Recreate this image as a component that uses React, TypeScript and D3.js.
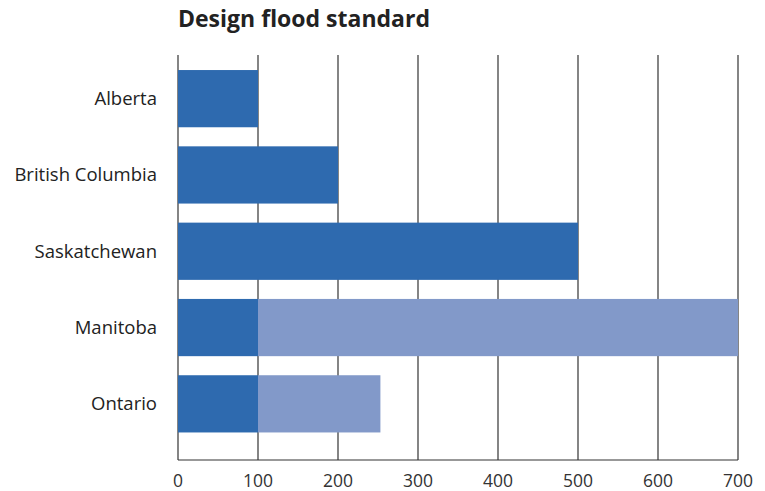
import React from "react";
import * as d3 from "d3";

const provinces = ["Alberta", "British Columbia", "Saskatchewan", "Manitoba", "Ontario"];
const baseValues = [100, 200, 500, 100, 100];
const upperValues = [0, 0, 0, 700, 253];
const ticks = [0, 100, 200, 300, 400, 500, 600, 700];
const title = "Design flood standard";

const darkColor = "#2e6aaf";
const lightColor = "#8299c9";

export default function App() {
  const width = 765;
  const height = 491;
  const x = d3.scaleLinear().domain([0, 700]).range([178, 738]);
  const y = d3.scaleBand<string>().domain(provinces).range([60.5, 442]).paddingInner(0.25).paddingOuter(0.125);
  const gridTop = 55;
  const axisY = 460;
  const font = "'Open Sans', 'Noto Sans', sans-serif";
  return (
    <svg width={width} height={height} style={{ position: "absolute", left: 0, top: 0 }} fontFamily={font}>
      <rect width={width} height={height} fill="#fff" />
      <text x={178} y={27} fontSize={23} fontWeight="bold" fill="#222">{title}</text>
      {ticks.map((t) => (
        <g key={t}>
          <line x1={x(t)} x2={x(t)} y1={gridTop} y2={axisY} stroke="#333" strokeWidth={1.2} />
          <text x={x(t)} y={487} textAnchor="middle" fontSize={17.5} fill="#333">{t}</text>
        </g>
      ))}
      {provinces.map((p, i) => (
        <g key={p}>
          {upperValues[i] > baseValues[i] && (
            <rect x={x(baseValues[i])} y={y(p)} width={x(upperValues[i]) - x(baseValues[i])} height={y.bandwidth()} fill={lightColor} />
          )}
          <rect x={x(0)} y={y(p)} width={x(baseValues[i]) - x(0)} height={y.bandwidth()} fill={darkColor} />
          <text x={157} y={(y(p) as number) + y.bandwidth() / 2} dy="0.35em" textAnchor="end" fontSize={18.5} fill="#222">{p}</text>
        </g>
      ))}
      <line x1={x(0)} x2={x(700)} y1={axisY} y2={axisY} stroke="#333" strokeWidth={1.2} />
    </svg>
  );
}
